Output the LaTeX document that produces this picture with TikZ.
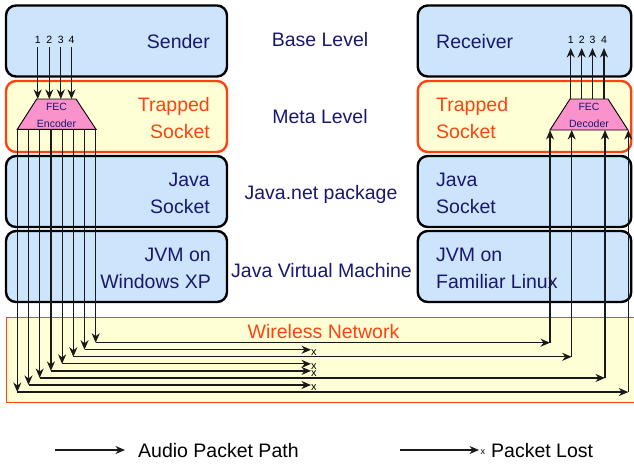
\documentclass[tikz,border=0pt]{standalone}
\usepackage{fontspec}
\setmainfont{Liberation Sans}
\usetikzlibrary{arrows.meta}
\definecolor{navy}{RGB}{24,24,110}
\definecolor{boxblue}{RGB}{204,228,252}
\definecolor{boxyellow}{RGB}{255,255,214}
\definecolor{netorange}{RGB}{255,66,16}
\definecolor{fecpink}{RGB}{250,146,204}
\tikzset{
  layerbox/.style={draw=black, line width=2.4pt, rounded corners=10pt, fill=boxblue,
    minimum height=71pt, inner sep=0pt},
  leftbox/.style={layerbox, minimum width=221pt},
  rightbox/.style={layerbox, minimum width=213.5pt},
  metabox/.style={draw=netorange, fill=boxyellow},
  bigtext/.style={font=\fontsize{19.5}{26.5}\selectfont, text=navy, inner sep=0pt},
  smalltext/.style={font=\fontsize{10.5}{12}\selectfont, inner sep=0pt},
  fecshape/.style={draw=black, line width=0.9pt, fill=fecpink},
  pathline/.style={line width=1.2pt, draw=black!90},
  tip/.style={-{Stealth[length=9.5pt,width=8pt,inset=3pt]}},
  lostmark/.style={font=\fontsize{11}{12}\selectfont, inner sep=0pt, anchor=west}
}
\begin{document}
\begin{tikzpicture}[x=1pt,y=-1pt]
\useasboundingbox (0,0) rectangle (634,463);
\clip (0,0) rectangle (634,463);

% wireless network band
\node[draw=netorange, line width=1.2pt, fill=boxyellow, minimum width=650pt,
  minimum height=85pt, anchor=north west, inner sep=0pt] (net) at (5.7,316.7) {};
\node[font=\fontsize{19.5}{24}\selectfont, text=netorange, inner sep=0pt] (netlabel) at (323.5,332) {Wireless Network};

% sender side layers
\node[leftbox] (lsender) at (116.5,41) {};
\node[leftbox, metabox] (ltrap) at (116.5,116.5) {};
\node[leftbox] (ljava) at (116.5,191.5) {};
\node[leftbox] (ljvm) at (116.5,266.5) {};

% receiver side layers
\node[rightbox] (rrecv) at (524.5,41) {};
\node[rightbox, metabox] (rtrap) at (524.5,116.5) {};
\node[rightbox] (rjava) at (524.5,191.5) {};
\node[rightbox] (rjvm) at (524.5,266.5) {};

% layer names
\node[bigtext, anchor=east] (tsender) at (210,42) {Sender};
\node[bigtext, anchor=east, align=right, text=netorange] (ttrapl) at (210,118) {Trapped\\Socket};
\node[bigtext, anchor=east, align=right] (tjaval) at (210,193.5) {Java\\Socket};
\node[bigtext, anchor=east, align=right] (tjvml) at (211,268.5) {JVM on\\Windows XP};

\node[bigtext, anchor=west] (trecv) at (436,42) {Receiver};
\node[bigtext, anchor=west, align=left, text=netorange] (ttrapr) at (436,118) {Trapped\\Socket};
\node[bigtext, anchor=west, align=left] (tjavar) at (436,193.5) {Java\\Socket};
\node[bigtext, anchor=west, align=left] (tjvmr) at (436,268.5) {JVM on\\Familiar Linux};

\node[bigtext] (lvbase) at (320,40) {Base Level};
\node[bigtext] (lvmeta) at (320,117) {Meta Level};
\node[bigtext] (lvnet) at (321,194) {Java.net package};
\node[bigtext] (lvjvm) at (321.5,271) {Java Virtual Machine};

% FEC encoder and decoder
\draw[fecshape] (36.7,99) -- (76,99) -- (96,129.3) -- (17.3,129.3) -- cycle;
\node[smalltext, text=navy] (encA) at (56.5,107) {FEC};
\node[smalltext, text=navy] (encB) at (56.5,123.5) {Encoder};
\draw[fecshape] (570,99) -- (608,99) -- (628,130) -- (550,130) -- cycle;
\node[smalltext, text=navy] (decA) at (589,107) {FEC};
\node[smalltext, text=navy] (decB) at (589,123.5) {Decoder};

% four packets into the encoder
\foreach \k/\x in {1/37.7,2/49.3,3/60.8,4/71.5}{
  \node[smalltext] (inl\k) at (\x,40) {\k};
  \coordinate (ina\k) at (\x,47);
  \coordinate (inb\k) at (\x,99);
  \draw[pathline, tip] (ina\k) -- (inb\k);
}
% four packets out of the decoder
\foreach \k/\x in {1/570.7,2/581.7,3/592.5,4/604}{
  \node[smalltext] (outl\k) at (\x,40) {\k};
  \coordinate (outa\k) at (\x,99);
  \coordinate (outb\k) at (\x,48);
  \draw[pathline, tip] (outa\k) -- (outb\k);
}

% eight encoded packets down to the network
\foreach \i in {1,...,8}{
  \pgfmathsetmacro{\px}{17.3+11.2*(\i-1)}
  \pgfmathsetmacro{\py}{392.05-7.05*(\i-1)}
  \coordinate (s\i) at (\px,129.3);
  \coordinate (c\i) at (\px,\py);
  \draw[pathline, tip] (s\i) -- (c\i);
}

% delivered packets up to the decoder
\foreach \i/\rx in {8/550,6/571.7,3/605,1/628.3}{
  \coordinate (d\i) at (c\i -| \rx,0);
  \coordinate (u\i) at (\rx,130);
  \draw[pathline, tip] (c\i) -- (d\i);
  \draw[pathline, tip] (d\i) -- (u\i);
}

% lost packets
\foreach \i in {7,5,4,2}{
  \coordinate (e\i) at (c\i -| 311,0);
  \draw[pathline, tip] (c\i) -- (e\i);
  \node[lostmark] (x\i) at ([yshift=-2.5pt]e\i) {x};
}

% legend
\coordinate (lga) at (55,450);
\coordinate (lgb) at (125,450);
\draw[pathline, tip] (lga) -- (lgb);
\node[font=\fontsize{19.5}{24}\selectfont, inner sep=0pt, anchor=west] (lgt1) at (138,451) {Audio Packet Path};
\coordinate (lgc) at (400,450);
\coordinate (lgd) at (479,450);
\draw[pathline, tip] (lgc) -- (lgd);
\node[font=\fontsize{9}{10}\selectfont, inner sep=0pt, anchor=west] (lgx) at (480.5,452) {x};
\node[font=\fontsize{19.5}{24}\selectfont, inner sep=0pt, anchor=west] (lgt2) at (491,451) {Packet Lost};
\end{tikzpicture}
\end{document}
